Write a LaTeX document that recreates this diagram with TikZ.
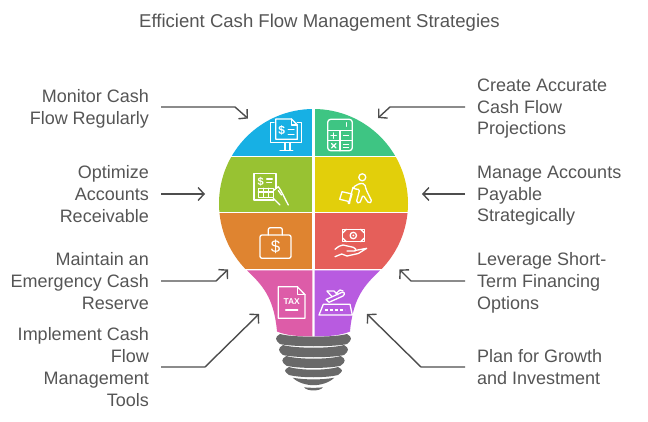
\documentclass[tikz,border=0pt]{standalone}
\usepackage{fontspec}
\setmainfont{Liberation Sans}
\usetikzlibrary{arrows.meta}
\definecolor{txt}{HTML}{555555}
\definecolor{conn}{HTML}{4D4D4D}
\definecolor{screw}{HTML}{696969}
\definecolor{cblue}{HTML}{17B0E4}
\definecolor{cgreen}{HTML}{3EC583}
\definecolor{colive}{HTML}{98C232}
\definecolor{cyellow}{HTML}{E2CF0B}
\definecolor{corange}{HTML}{DF8430}
\definecolor{cred}{HTML}{E55F5A}
\definecolor{cpink}{HTML}{DD5CA8}
\definecolor{cpurple}{HTML}{B85BE0}
\tikzset{
  lefttext/.style={anchor=east,align=right,inner xsep=12pt,inner ysep=0pt,text=txt,font=\fontsize{18}{21.7}\selectfont,
    execute at begin node={\rule{0pt}{21pt}},execute at end node={\rule[-4pt]{0pt}{4pt}}},
  righttext/.style={anchor=west,align=left,inner xsep=12pt,inner ysep=0pt,text=txt,font=\fontsize{18}{21.7}\selectfont,
    execute at begin node={\rule{0pt}{21pt}},execute at end node={\rule[-4pt]{0pt}{4pt}}},
  pointer/.style={draw=conn,line width=1.4pt,-{Straight Barb[length=6pt,width=13pt,line width=1.4pt]}},
  icon/.style={draw=white,line width=1.3pt,line cap=round,line join=round},
  icontext/.style={text=white,inner sep=0pt}
}
\begin{document}
\begin{tikzpicture}[x=1pt,y=-1pt]
  \useasboundingbox (0,0) rectangle (648,422);

  \node[text=txt,font=\fontsize{18.55}{22}\selectfont] (title) at (319.5,22.5) {Efficient Cash Flow Management Strategies};

  % bulb
  \begin{scope}
    \clip (313.5,203.5) circle[radius=94.5];
    \fill[cblue]   (210,100) rectangle (312.3,155.7);
    \fill[cgreen]  (314.7,100) rectangle (420,155.7);
    \fill[colive]  (210,157.3) rectangle (312.3,211.7);
    \fill[cyellow] (314.7,157.3) rectangle (420,211.7);
    \fill[corange] (210,213.3) rectangle (312.3,269);
    \fill[cred]    (314.7,213.3) rectangle (420,269);
  \end{scope}
  \fill[cpink] (247,270.3) -- (312.3,270.3) -- (312.3,336.5) .. controls (300,336.5) and (286,335.5) .. (277,331.5)
    .. controls (274,297) and (262,285) .. cycle;
  \fill[cpurple] (380,270.3) -- (314.7,270.3) -- (314.7,336.5) .. controls (327,336.5) and (341,335.5) .. (350,331.5)
    .. controls (353,297) and (365,285) .. cycle;

  % screw
  \foreach \l/\r/\t/\b in {276/351/334/344,279/348/345/355,282.3/344.7/356/365.7,285/342/367/375}
    \fill[screw] (\l+4,\t) .. controls (\l+16,\t+3.6) and (\r-16,\t+3.6) .. (\r-4,\t)
      .. controls (\r+1.3,\t+3) and (\r+1.3,\b-4) .. (\r-4,\b)
      .. controls (\r-16,\b+3) and (\l+16,\b+3) .. (\l+4,\b)
      .. controls (\l-1.3,\b-4) and (\l-1.3,\t+3) .. cycle;
  \fill[screw] (292.7,377.7) .. controls (305,380) and (322,380) .. (334.3,377.7) .. controls (329,383) and (320,385.2) .. (313.5,385.2)
    .. controls (307,385.2) and (298,383) .. cycle;
  \fill[screw] (304,387.3) .. controls (310,388) and (317,388) .. (323,387.3) .. controls (320,391.5) and (307,391.5) .. cycle;

  % monitor
  \draw[icon] (274,122.7) -- (270.7,122.7) -- (270.7,142.7) -- (301.7,142.7) -- (301.7,122.7) -- (297.3,122.7);
  \draw[icon] (275.7,139.3) -- (275.7,119) -- (291.5,119) -- (297.3,125) -- (297.3,139.3) -- cycle;
  \draw[icon] (291.5,119) -- (291.5,125) -- (297.3,125);
  \draw[icon] (285,142.7) -- (285,150.5) (290,142.7) -- (290,150.5) (280,150.7) -- (292.7,150.7);
  \draw[icon] (288.3,129.3) -- (294,129.3) (288.3,134.3) -- (294,134.3);
  \node[icontext,font=\fontsize{12}{12}\selectfont\bfseries] (moneya) at (281.7,130) {\$};

  % calculator
  \draw[icon,rounded corners=3pt] (327.7,119.3) rectangle (352.3,150.7);
  \draw[icon] (327.7,130.7) -- (352.3,130.7) (327.7,140.7) -- (352.3,140.7) (340,130.7) -- (340,150.7);
  \draw[icon] (346.7,122.7) -- (346.7,126.3);
  \draw[icon] (331,135.7) -- (336.4,135.7) (333.7,133) -- (333.7,138.4) (343.5,135.7) -- (348.5,135.7);
  \draw[icon] (331.5,143.5) -- (336,148) (336,143.5) -- (331.5,148);
  \draw[icon] (343.5,144.3) -- (348.5,144.3) (343.5,147.3) -- (348.5,147.3);

  % receipt
  \draw[icon] (276,188) -- (276,173.3) -- (254,173.3) -- (254,200) -- (274,200);
  \draw[icon] (266.7,179) -- (272.3,179) (266.7,182.3) -- (271.5,182.3);
  \draw[icon] (258.3,188.3) rectangle (273.3,197.3);
  \draw[icon] (263.3,188.3) -- (263.3,197.3) (268.3,188.3) -- (268.3,197.3) (258.3,192) -- (273.3,192);
  \draw[icon] (273.3,190.7) -- (278.3,186.7) .. controls (281,190) and (284,197) .. (288.3,205);
  \draw[icon] (273.3,198.3) -- (278.3,203.3) -- (280,205);
  \draw[icon] (278.3,190.5) -- (281.5,195);
  \node[icontext,font=\fontsize{11}{11}\selectfont\bfseries] (moneyb) at (260.7,181.7) {\$};

  % person with cart
  \draw[icon] (362.3,177.3) circle[radius=3.5];
  \draw[icon] (342,191.7) -- (352,194) -- (349.7,201.7) -- (339.7,199.3) -- cycle;
  \draw[icon] (353,187.3) -- (349,202);
  \draw[icon] (349,202.8) circle[radius=0.9];
  \draw[icon,rounded corners=1.5pt] (353,187.3) -- (359.7,183.3) -- (364.7,184) -- (366.3,190) -- (372,201.7) -- (368.7,203.3) -- (363,195) -- (359.7,203.3) -- (356.3,202.3) -- (358.7,193.3) -- (359.7,189.3) -- (354,189) -- cycle;

  % briefcase
  \draw[icon,rounded corners=2pt] (260,235) rectangle (291,258.3);
  \draw[icon,rounded corners=2pt] (268.3,235) -- (268.3,227.7) -- (282.3,227.7) -- (282.3,235);
  \node[icontext,font=\fontsize{17}{17}\selectfont] (moneyc) at (275.7,246.7) {\$};

  % note and hand
  \draw[icon] (342.7,229.3) rectangle (364.3,241.7);
  \draw[icon] (353.3,235.5) circle[radius=3.2];
  \fill[white] (353.3,235.5) circle[radius=1];
  \draw[icon] (342.7,233) -- (346.3,229.3) (342.7,238) -- (346.3,241.7) (364.3,233) -- (360.7,229.3) (364.3,238) -- (360.7,241.7);
  \draw[icon] (335,249.3) .. controls (338,247) and (340,245) .. (343,245) -- (353.3,247.3) .. controls (356,248) and (356.5,250) .. (355,251) -- (347,251);
  \draw[icon] (355,250.5) -- (366.7,248.3) -- (358.3,253.5) -- (347,256) -- (341.7,254) -- (335,256.7);

  % tax form
  \draw[icon] (297.3,286.7) -- (278.3,286.7) -- (278.3,318.3) -- (305,318.3) -- (305,294.7) -- cycle;
  \draw[icon] (297.3,286.7) -- (297.3,294.7) -- (305,294.7);
  \node[icontext,font=\fontsize{8.5}{9}\selectfont\bfseries] (taxlabel) at (291.7,301.7) {TAX};
  \draw[icon] (285.7,310) -- (297.7,310);

  % plane and runway
  \draw[icon] (323.3,304.3) -- (350,304.3) -- (352.3,315) -- (319,315) -- cycle;
  \draw[icon,dash pattern=on 2.5pt off 2.5pt,line cap=butt] (325,310) -- (345,310);
  \draw[icon] (326,299.5) -- (329,302.3) -- (343,296) .. controls (345.5,294) and (344.5,291.5) .. (341.5,292.5) -- (326,299.5);
  \draw[icon] (327,291) -- (334,291) -- (338,294.8);
  \draw[icon] (327,291) -- (332,296.7);
  \draw[icon] (336,293.5) -- (340,290) -- (343,291);

  % labels
  \node[lefttext] (monitor) at (161,109) {Monitor Cash\\Flow Regularly};
  \node[lefttext] (receivable) at (161,196) {Optimize\\Accounts\\Receivable};
  \node[lefttext] (reserve) at (161,283) {Maintain an\\Emergency Cash\\Reserve};
  \node[lefttext] (tools) at (161,369) {Implement Cash\\Flow\\Management\\Tools};
  \node[righttext] (projection) at (465,109) {Create Accurate\\Cash Flow\\Projections};
  \node[righttext] (payable) at (465,196) {Manage Accounts\\Payable\\Strategically};
  \node[righttext] (financing) at (465,283) {Leverage Short-\\Term Financing\\Options};
  \node[righttext] (growth) at (465,369) {Plan for Growth\\and Investment};

  \coordinate (monitortip) at (248,118.5);
  \coordinate (projectiontip) at (378,118);
  \coordinate (receivabletip) at (205,194);
  \coordinate (payabletip) at (422,194);
  \coordinate (reservetip) at (228,269.5);
  \coordinate (financingtip) at (399.5,269.5);
  \coordinate (toolstip) at (259,314);
  \coordinate (growthtip) at (367,314);

  \draw[pointer] ([yshift=2pt]monitor.east) -- ++(74,0) -- (monitortip);
  \draw[pointer] ([yshift=2pt]projection.west) -- ++(-75,0) -- (projectiontip);
  \draw[pointer] ([yshift=2pt]receivable.east) -- (receivabletip);
  \draw[pointer] ([yshift=2pt]payable.west) -- (payabletip);
  \draw[pointer] ([yshift=2pt]reserve.east) -- ++(55,0) -- (reservetip);
  \draw[pointer] ([yshift=2pt]financing.west) -- ++(-54,0) -- (financingtip);
  \draw[pointer] ([yshift=2pt]tools.east) -- ++(44,0) -- (toolstip);
  \draw[pointer] ([yshift=2pt]growth.west) -- ++(-44,0) -- (growthtip);
\end{tikzpicture}
\end{document}
